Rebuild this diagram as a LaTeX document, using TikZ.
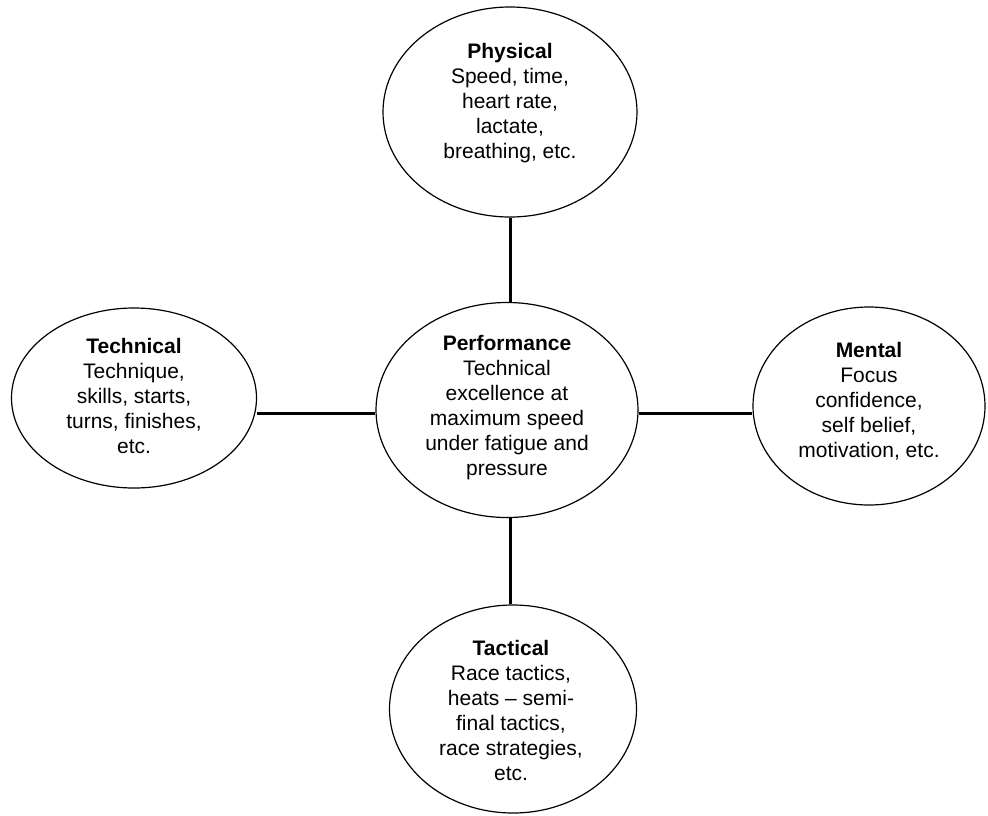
\documentclass[tikz,border=0pt]{standalone}
\usepackage{fontspec}
\setmainfont{Liberation Sans}
\usetikzlibrary{shapes.geometric}
\begin{document}
\begin{tikzpicture}[x=1pt,y=-1pt,
  oval/.style={draw=black, line width=1.2pt, ellipse, inner sep=0pt, fill=white},
  txt/.style={align=center, font=\fontsize{21}{25}\selectfont, inner sep=0pt},
  link/.style={draw=black, line width=3pt}]
\useasboundingbox (0,0) rectangle (988,815);
\node[oval, minimum width=262pt, minimum height=215pt] (perf) at (507,410) {};
\node[oval, minimum width=254pt, minimum height=210pt] (phys) at (510,112) {};
\node[oval, minimum width=245pt, minimum height=180pt] (tech) at (134,398) {};
\node[oval, minimum width=232pt, minimum height=198pt] (ment) at (869,406) {};
\node[oval, minimum width=247pt, minimum height=208pt] (tact) at (513,709) {};
\draw[link] (phys.south -| 510,0) -- (perf.north -| 510,0);
\draw[link] (perf.south -| 510,0) -- (tact.north -| 510,0);
\draw[link] (perf.west |- 0,413) -- (tech.east |- 0,413);
\draw[link] (perf.east |- 0,413) -- (ment.west |- 0,413);
\node[txt] (tperf) at (507,408) {\textbf{Performance}\\Technical\\excellence at\\maximum speed\\under fatigue and\\pressure};
\node[txt] (tphys) at (510,103) {\textbf{Physical}\\Speed, time,\\heart rate,\\lactate,\\breathing, etc.};
\node[txt] (ttech) at (134,396) {\textbf{Technical}\\Technique,\\skills, starts,\\turns, finishes,\\etc.};
\node[txt] (tment) at (869,401) {\textbf{Mental}\\Focus\\confidence,\\self belief,\\motivation, etc.};
\node[txt] (ttact) at (511,710) {\textbf{Tactical}\\Race tactics,\\heats -- semi-\\final tactics,\\race strategies,\\etc.};
\end{tikzpicture}
\end{document}
